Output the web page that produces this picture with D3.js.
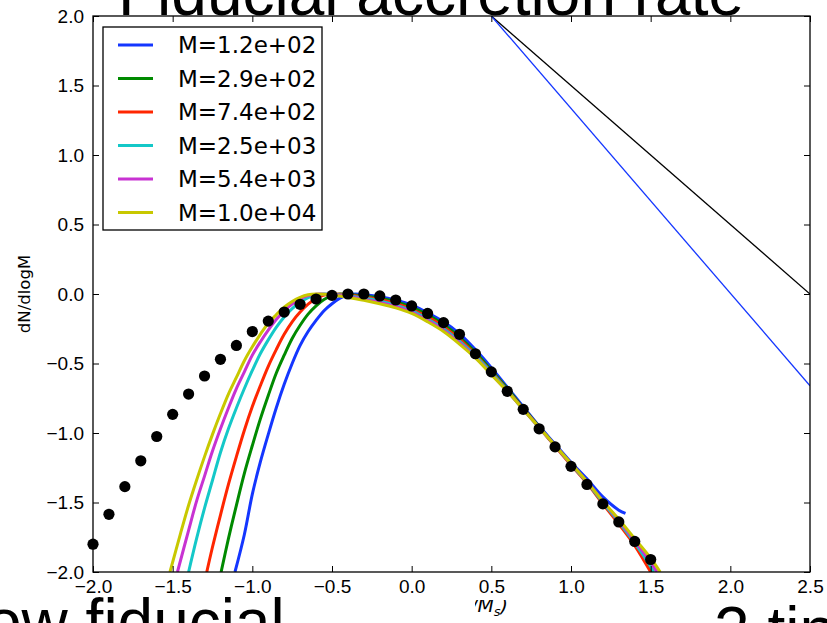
<!DOCTYPE html>
<html><head><meta charset="utf-8">
<script src="https://cdn.jsdelivr.net/npm/d3@7"></script>
<style>body{margin:0;background:#fff;overflow:hidden}</style>
</head><body>
<svg id="c" width="827" height="623"></svg>
<script>
// ---------- data ----------
const xTicks = [-2.0, -1.5, -1.0, -0.5, 0.0, 0.5, 1.0, 1.5, 2.0, 2.5];
const xTickLabels = ["\u22122.0","\u22121.5","\u22121.0","\u22120.5","0.0","0.5","1.0","1.5","2.0","2.5"];
const yTicks = [-2.0, -1.5, -1.0, -0.5, 0.0, 0.5, 1.0, 1.5, 2.0];
const yTickLabels = ["\u22122.0","\u22121.5","\u22121.0","\u22120.5","0.0","0.5","1.0","1.5","2.0"];

const seriesNames = ["M=1.2e+02","M=2.9e+02","M=7.4e+02","M=2.5e+03","M=5.4e+03","M=1.0e+04"];
const seriesColors = ["#1436ff","#008a00","#ff2600","#14c8c8","#c832d2","#c8c800"];

const blueX = [-1.109,-1.05,-1.0,-0.95,-0.9,-0.85,-0.8,-0.75,-0.7,-0.65,-0.6,-0.55,-0.5,-0.45,-0.4,-0.35,-0.3,-0.2,-0.1,0.0,0.1,0.2,0.3,0.4,0.5,0.6,0.7,0.8,0.9,1.0,1.1,1.2,1.3,1.342];
const blueY = [-2.0,-1.73,-1.44,-1.21,-1.01,-0.82,-0.65,-0.50,-0.37,-0.27,-0.19,-0.12,-0.07,-0.03,-0.005,0.0,-0.005,-0.02,-0.045,-0.08,-0.135,-0.20,-0.285,-0.40,-0.53,-0.67,-0.81,-0.95,-1.08,-1.21,-1.33,-1.46,-1.555,-1.578];

const greenX = [-1.196,-1.15,-1.1,-1.05,-1.0,-0.95,-0.9,-0.85,-0.8,-0.75,-0.7,-0.65,-0.6,-0.55,-0.5,-0.45,-0.4,-0.3,-0.2,-0.1,0.0,0.1,0.2,0.3,0.4,0.5,0.6,0.7,0.8,0.9,1.0,1.1,1.2,1.3,1.4,1.5,1.505];
const greenY = [-2.0,-1.76,-1.52,-1.29,-1.09,-0.90,-0.73,-0.57,-0.44,-0.32,-0.225,-0.145,-0.085,-0.04,-0.012,0.0,-0.002,-0.015,-0.03,-0.055,-0.095,-0.15,-0.22,-0.31,-0.42,-0.55,-0.68,-0.82,-0.955,-1.09,-1.22,-1.35,-1.50,-1.645,-1.80,-1.97,-2.0];

const redX = [-1.286,-1.25,-1.2,-1.15,-1.1,-1.05,-1.0,-0.95,-0.9,-0.85,-0.8,-0.75,-0.7,-0.65,-0.6,-0.55,-0.5,-0.45,-0.4,-0.3,-0.2,-0.1,0.0,0.1,0.2,0.3,0.4,0.5,0.6,0.7,0.8,0.9,1.0,1.1,1.2,1.3,1.4,1.5];
const redY = [-2.0,-1.82,-1.59,-1.37,-1.17,-0.98,-0.81,-0.66,-0.52,-0.40,-0.29,-0.20,-0.13,-0.073,-0.032,-0.008,0.0,-0.002,-0.007,-0.022,-0.04,-0.068,-0.11,-0.165,-0.235,-0.325,-0.435,-0.56,-0.69,-0.825,-0.96,-1.095,-1.23,-1.36,-1.51,-1.655,-1.81,-2.0];

const cyanX = [-1.40,-1.35,-1.3,-1.25,-1.2,-1.15,-1.1,-1.05,-1.0,-0.95,-0.9,-0.85,-0.8,-0.75,-0.7,-0.65,-0.6,-0.55,-0.5,-0.4,-0.3,-0.2,-0.1,0.0,0.1,0.2,0.3,0.4,0.5,0.6,0.7,0.8,0.9,1.0,1.1,1.2,1.3,1.4,1.5,1.52];
const cyanY = [-2.0,-1.76,-1.54,-1.34,-1.14,-0.97,-0.82,-0.68,-0.55,-0.43,-0.33,-0.24,-0.165,-0.105,-0.06,-0.027,-0.007,0.0,-0.002,-0.012,-0.03,-0.05,-0.08,-0.12,-0.18,-0.25,-0.34,-0.445,-0.565,-0.695,-0.83,-0.96,-1.09,-1.225,-1.355,-1.50,-1.64,-1.79,-1.96,-2.0];

const magentaX = [-1.47,-1.4,-1.35,-1.3,-1.25,-1.2,-1.15,-1.1,-1.05,-1.0,-0.95,-0.9,-0.85,-0.8,-0.75,-0.7,-0.65,-0.6,-0.58,-0.5,-0.4,-0.3,-0.2,-0.1,0.0,0.1,0.2,0.3,0.4,0.5,0.6,0.7,0.8,0.9,1.0,1.1,1.2,1.3,1.4,1.5,1.54];
const magentaY = [-2.0,-1.70,-1.49,-1.31,-1.13,-0.97,-0.82,-0.68,-0.56,-0.44,-0.345,-0.26,-0.184,-0.122,-0.073,-0.036,-0.012,-0.001,0.0,-0.004,-0.018,-0.038,-0.06,-0.09,-0.13,-0.19,-0.26,-0.35,-0.455,-0.575,-0.70,-0.83,-0.96,-1.09,-1.22,-1.35,-1.49,-1.63,-1.775,-1.93,-2.0];

const yellowX = [-1.517,-1.45,-1.4,-1.35,-1.3,-1.25,-1.2,-1.15,-1.1,-1.05,-1.0,-0.95,-0.9,-0.85,-0.8,-0.75,-0.7,-0.65,-0.6,-0.55,-0.5,-0.4,-0.3,-0.2,-0.1,0.0,0.1,0.2,0.3,0.4,0.5,0.6,0.7,0.8,0.9,1.0,1.1,1.2,1.3,1.4,1.5,1.56];
const yellowY = [-2.0,-1.72,-1.52,-1.34,-1.17,-1.01,-0.86,-0.72,-0.60,-0.48,-0.38,-0.29,-0.21,-0.15,-0.095,-0.054,-0.024,-0.006,0.0,-0.002,-0.008,-0.025,-0.045,-0.07,-0.10,-0.14,-0.20,-0.27,-0.36,-0.46,-0.58,-0.70,-0.83,-0.96,-1.09,-1.22,-1.35,-1.49,-1.62,-1.76,-1.90,-2.0];

const dotX = [-2.0,-1.9,-1.8,-1.7,-1.6,-1.5,-1.4,-1.3,-1.2,-1.1,-1.0,-0.9,-0.8,-0.7,-0.6,-0.5,-0.4,-0.3,-0.2,-0.1,0.0,0.1,0.2,0.3,0.4,0.5,0.6,0.7,0.8,0.9,1.0,1.1,1.2,1.3,1.4,1.5];
const dotY = [-1.80,-1.585,-1.386,-1.20,-1.025,-0.866,-0.72,-0.59,-0.47,-0.37,-0.27,-0.195,-0.13,-0.074,-0.036,-0.01,0.0,0.0,-0.014,-0.043,-0.086,-0.14,-0.206,-0.29,-0.43,-0.56,-0.70,-0.83,-0.97,-1.10,-1.24,-1.37,-1.51,-1.64,-1.78,-1.91];

const refLineX = [0.5, 2.5];
const refBlackY = [2.0, 0.0];
const refBlueY = [2.0, -0.66];

const titleText = "Fiducial accretion rate";
const yLabelText = "dN/dlogM";
const xLabelMain = "log(M/M";
const xLabelSub = "s";
const bottomLeftText = "ow fiducial";
const bottomRightText = "2 tin";

// ---------- build ----------
const seriesX = [blueX, greenX, redX, cyanX, magentaX, yellowX];
const seriesY = [blueY, greenY, redY, cyanY, magentaY, yellowY];

const svg = d3.select("#c");
const L = 93, R = 810, T = 16, B = 572;
const x = d3.scaleLinear().domain([-2.0, 2.5]).range([L, R]);
const y = d3.scaleLinear().domain([-2.0, 2.0]).range([B, T]);
const FONT = "'Liberation Sans', Arial, sans-serif";
const DV = "'DejaVu Sans', sans-serif";

svg.append("rect").attr("width", 827).attr("height", 623).attr("fill", "#fff");

// slide title (only its lower part shows above the axes)
svg.append("text").attr("x", 431).attr("y", 15).attr("text-anchor", "middle")
  .attr("font-family", FONT).attr("font-size", 64).text(titleText);

const defs = svg.append("defs");
defs.append("clipPath").attr("id", "plotclip")
  .append("rect").attr("x", L).attr("y", T).attr("width", R - L).attr("height", B - T);

const plot = svg.append("g").attr("clip-path", "url(#plotclip)");
const line = d3.line().x(d => x(d[0])).y(d => y(d[1]));
const smooth = d3.line().x(d => x(d[0])).y(d => y(d[1])).curve(d3.curveCatmullRom.alpha(0.5));

// reference straight lines
plot.append("path").attr("d", line(refLineX.map((v, i) => [v, refBlackY[i]])))
  .attr("fill", "none").attr("stroke", "#000").attr("stroke-width", 1.3);
plot.append("path").attr("d", line(refLineX.map((v, i) => [v, refBlueY[i]])))
  .attr("fill", "none").attr("stroke", "#1436ff").attr("stroke-width", 1.3);

// model curves
seriesX.forEach((xs, k) => {
  plot.append("path").attr("d", smooth(xs.map((v, i) => [v, seriesY[k][i]])))
    .attr("fill", "none").attr("stroke", seriesColors[k]).attr("stroke-width", 3)
    .attr("stroke-linejoin", "round");
});

// dots
svg.append("g").selectAll("circle").data(dotX.map((v, i) => [v, dotY[i]])).join("circle")
  .attr("cx", d => x(d[0])).attr("cy", d => y(d[1])).attr("r", 5.6).attr("fill", "#000");

// axes
const axB = d3.axisBottom(x).tickValues(xTicks).tickFormat((d, i) => xTickLabels[i]).tickSizeInner(-6).tickSizeOuter(0).tickPadding(8);
const axT = d3.axisTop(x).tickValues(xTicks).tickFormat("").tickSizeInner(-6).tickSizeOuter(0);
const axL = d3.axisLeft(y).tickValues(yTicks).tickFormat((d, i) => yTickLabels[i]).tickSizeInner(-6).tickSizeOuter(0).tickPadding(9);
const axR = d3.axisRight(y).tickValues(yTicks).tickFormat("").tickSizeInner(-6).tickSizeOuter(0);

function styleAxis(g) {
  g.select(".domain").remove();
  g.selectAll("line").attr("stroke", "#000").attr("stroke-width", 1);
  g.selectAll("text").attr("font-family", FONT).attr("font-size", 19).attr("fill", "#000");
}
svg.append("g").attr("transform", `translate(0,${B})`).call(axB).call(styleAxis);
svg.append("g").attr("transform", `translate(0,${T})`).call(axT).call(styleAxis);
svg.append("g").attr("transform", `translate(${L},0)`).call(axL).call(styleAxis);
svg.append("g").attr("transform", `translate(${R},0)`).call(axR).call(styleAxis);

svg.append("rect").attr("x", L).attr("y", T).attr("width", R - L).attr("height", B - T)
  .attr("fill", "none").attr("stroke", "#000").attr("stroke-width", 1.3);

// y label
svg.append("text").attr("transform", `translate(30,${(T + B) / 2}) rotate(-90)`)
  .attr("text-anchor", "middle").attr("font-family", DV).attr("font-size", 16.5).text(yLabelText);

// x label (mostly hidden in the reference; only its tail shows)
defs.append("clipPath").attr("id", "xlabclip")
  .append("rect").attr("x", 475).attr("y", 600).attr("width", 45).attr("height", 23);
const xl = svg.append("text").attr("x", 508).attr("y", 612).attr("text-anchor", "end")
  .attr("font-family", DV).attr("font-size", 19).attr("font-style", "italic")
  .attr("clip-path", "url(#xlabclip)");
xl.append("tspan").text(xLabelMain);
xl.append("tspan").attr("font-size", 13).attr("dy", 4).text(xLabelSub);
xl.append("tspan").attr("dy", -4).text(")");

// legend
const lg = svg.append("g");
lg.append("rect").attr("x", 103).attr("y", 27).attr("width", 219).attr("height", 203)
  .attr("fill", "#fff").attr("stroke", "#000").attr("stroke-width", 1.3);
seriesNames.forEach((n, i) => {
  const cy = 45 + i * 33.5;
  lg.append("line").attr("x1", 118).attr("x2", 153).attr("y1", cy).attr("y2", cy)
    .attr("stroke", seriesColors[i]).attr("stroke-width", 3);
  lg.append("text").attr("x", 178).attr("y", cy + 8.4).attr("font-family", DV)
    .attr("font-size", 23).text(n);
});

// overlapping slide text at the bottom
svg.append("text").attr("x", -14).attr("y", 644)
  .attr("font-family", FONT).attr("font-size", 64).text(bottomLeftText);
svg.append("text").attr("x", 714).attr("y", 652)
  .attr("font-family", FONT).attr("font-size", 64).text(bottomRightText);
</script>
</body></html>
